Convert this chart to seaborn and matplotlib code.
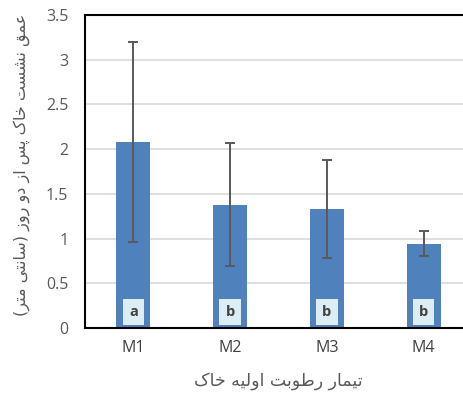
import matplotlib
matplotlib.use("Agg")
import matplotlib.pyplot as plt
import seaborn as sns
import pandas as pd

# ---- data ----
treatments = ["M1", "M2", "M3", "M4"]
settlement_cm = [2.08, 1.38, 1.33, 0.94]
std_err = [1.12, 0.685, 0.55, 0.14]
groups = ["a", "b", "b", "b"]
y_ticks = [0, 0.5, 1, 1.5, 2, 2.5, 3, 3.5]

x_title = "تیمار رطوبت اولیه خاک"
y_title = "عمق نشست خاک پس از دو روز (سانتی متر)"

# ---- simple Persian shaping (contextual forms + visual order) ----
# letter: (isolated, final, initial, medial); two-form letters join only to the right
FORMS = {
    "ا": (0xFE8D, 0xFE8E), "آ": (0xFE81, 0xFE82),
    "ب": (0xFE8F, 0xFE90, 0xFE91, 0xFE92), "پ": (0xFB56, 0xFB57, 0xFB58, 0xFB59),
    "ت": (0xFE95, 0xFE96, 0xFE97, 0xFE98), "ث": (0xFE99, 0xFE9A, 0xFE9B, 0xFE9C),
    "ج": (0xFE9D, 0xFE9E, 0xFE9F, 0xFEA0), "چ": (0xFB7A, 0xFB7B, 0xFB7C, 0xFB7D),
    "ح": (0xFEA1, 0xFEA2, 0xFEA3, 0xFEA4), "خ": (0xFEA5, 0xFEA6, 0xFEA7, 0xFEA8),
    "د": (0xFEA9, 0xFEAA), "ذ": (0xFEAB, 0xFEAC), "ر": (0xFEAD, 0xFEAE),
    "ز": (0xFEAF, 0xFEB0), "ژ": (0xFB8A, 0xFB8B),
    "س": (0xFEB1, 0xFEB2, 0xFEB3, 0xFEB4), "ش": (0xFEB5, 0xFEB6, 0xFEB7, 0xFEB8),
    "ص": (0xFEB9, 0xFEBA, 0xFEBB, 0xFEBC), "ض": (0xFEBD, 0xFEBE, 0xFEBF, 0xFEC0),
    "ط": (0xFEC1, 0xFEC2, 0xFEC3, 0xFEC4), "ظ": (0xFEC5, 0xFEC6, 0xFEC7, 0xFEC8),
    "ع": (0xFEC9, 0xFECA, 0xFECB, 0xFECC), "غ": (0xFECD, 0xFECE, 0xFECF, 0xFED0),
    "ف": (0xFED1, 0xFED2, 0xFED3, 0xFED4), "ق": (0xFED5, 0xFED6, 0xFED7, 0xFED8),
    "ک": (0xFB8E, 0xFB8F, 0xFB90, 0xFB91), "گ": (0xFB92, 0xFB93, 0xFB94, 0xFB95),
    "ل": (0xFEDD, 0xFEDE, 0xFEDF, 0xFEE0), "م": (0xFEE1, 0xFEE2, 0xFEE3, 0xFEE4),
    "ن": (0xFEE5, 0xFEE6, 0xFEE7, 0xFEE8), "و": (0xFEED, 0xFEEE),
    "ه": (0xFEE9, 0xFEEA, 0xFEEB, 0xFEEC), "ی": (0xFBFC, 0xFBFD, 0xFBFE, 0xFBFF),
}
MIRROR = {"(": ")", ")": "("}


def shape_rtl(text):
    out = []
    n = len(text)
    for i, ch in enumerate(text):
        if ch not in FORMS:
            out.append(ch)
            continue
        prev = text[i - 1] if i > 0 else ""
        nxt = text[i + 1] if i + 1 < n else ""
        joins_prev = prev in FORMS and len(FORMS[prev]) == 4
        joins_next = len(FORMS[ch]) == 4 and nxt in FORMS
        f = FORMS[ch]
        if joins_prev and joins_next:
            out.append(chr(f[3]))
        elif joins_prev:
            out.append(chr(f[1]))
        elif joins_next:
            out.append(chr(f[2]))
        else:
            out.append(chr(f[0]))
    return "".join(MIRROR.get(c, c) for c in reversed(out))


# ---- figure ----
sns.set_theme(style="white")
plt.rcParams["font.family"] = ["Open Sans", "DejaVu Sans"]

TEXT_GREY = "#595959"
BAR_BLUE = "#4f81bd"

fig = plt.figure(figsize=(4.63, 3.96), dpi=100)
ax = fig.add_axes([85 / 463, 68 / 396, 387 / 463, 313 / 396])

df = pd.DataFrame({"treatment": treatments, "settlement": settlement_cm})
sns.barplot(data=df, x="treatment", y="settlement", color=BAR_BLUE,
            saturation=1, width=0.35, errorbar=None, ax=ax, zorder=2,
            edgecolor=BAR_BLUE, linewidth=0)

ax.errorbar(range(len(treatments)), settlement_cm, yerr=std_err, fmt="none",
            ecolor="#595959", elinewidth=1.4, capsize=3.3, capthick=1.4, zorder=3)

for i, g in enumerate(groups):
    ax.text(i, 0.18, g, ha="center", va="center", fontsize=10.5,
            fontweight="bold", color="#404040", zorder=4,
            bbox=dict(boxstyle="square,pad=0.42", fc="#dcedf4", ec="none"))

ax.set_xlim(-0.5, 3.5)
ax.set_ylim(0, 3.5)
ax.set_yticks(y_ticks)
ax.set_yticklabels([f"{v:g}" for v in y_ticks])
ax.yaxis.grid(True, color="#d9d9d9", linewidth=1.2, zorder=0)
ax.set_axisbelow(True)

ax.tick_params(axis="y", length=0, pad=12, labelsize=11.5, labelcolor=TEXT_GREY)
ax.tick_params(axis="x", length=0, pad=9, labelsize=11.5, labelcolor="#404040")

for side in ["left", "bottom", "top"]:
    ax.spines[side].set_visible(True)
    ax.spines[side].set_color("black")
    ax.spines[side].set_linewidth(1.5)
ax.spines["right"].set_visible(False)

ax.set_xlabel(shape_rtl(x_title), fontsize=12.5, color=TEXT_GREY,
              family=["DejaVu Sans"])
ax.xaxis.set_label_coords(0.5, -44 / 313)
ax.set_ylabel(shape_rtl(y_title), fontsize=11.5, color=TEXT_GREY,
              family=["DejaVu Sans"])
ax.yaxis.set_label_coords(-55 / 387, 0.52)

fig.savefig("out.png", dpi=100)
